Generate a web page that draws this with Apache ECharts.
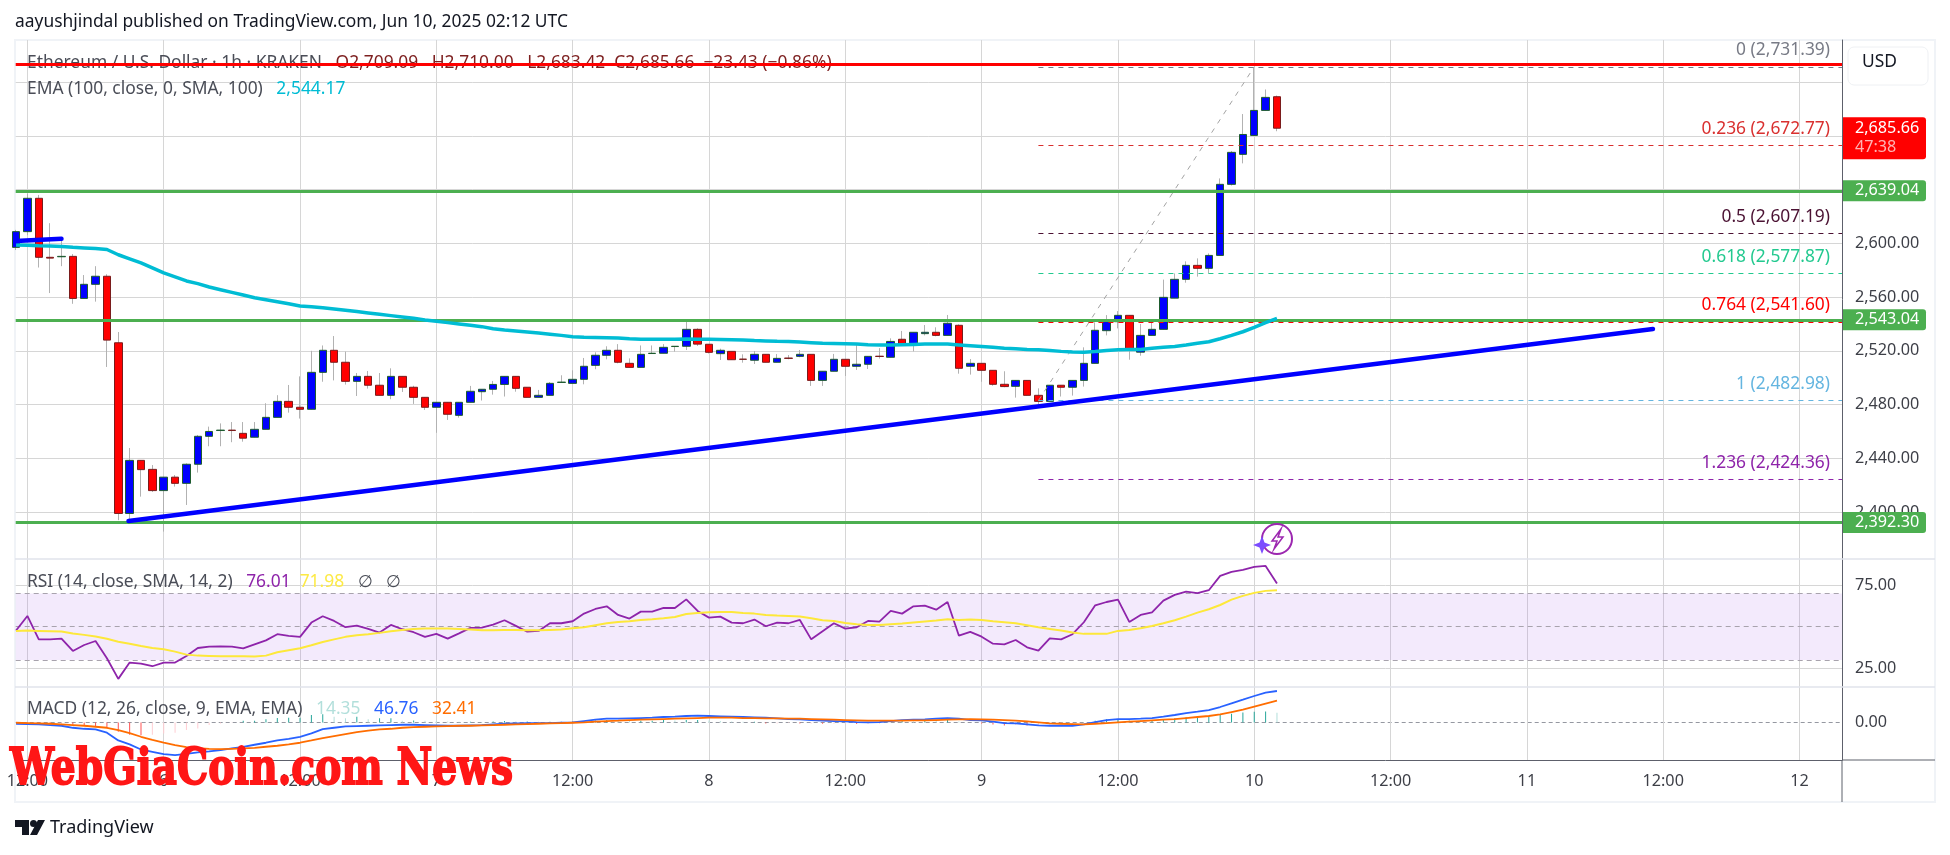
<!DOCTYPE html>
<html><head><meta charset="utf-8">
<style>html,body{margin:0;padding:0;background:#fff}#c{width:1950px;height:855px}</style>
<script src="https://cdn.jsdelivr.net/npm/echarts@6/dist/echarts.min.js"></script>
</head><body><div id="c"></div>
<script>
// hour offset from Jun 5 12:00 of the first candle
const firstHour = -1;
const opens = [2597,2608.7,2633.5,2589.6,2590,2590.3,2559,2569.5,2575.5,2526,
2399,2438.5,2431.8,2416,2426,2421.4,2435.6,2456.4,2460.7,2461,
2458.6,2455.7,2461.6,2470.5,2482.4,2478,2476.5,2504,2520.4,2511.5,
2497.3,2501,2494.4,2486.9,2501,2492.9,2485.4,2478,2481.7,2472,
2481.7,2489.6,2491.4,2495,2501,2492.9,2485.4,2486.9,2496.5,2495.8,
2498.8,2509.2,2516.7,2520.4,2510.7,2507.7,2518,2518.2,2523.2,2523.4,
2536,2524.9,2517.9,2519.6,2513.8,2513,2517.4,2511.5,2514.6,2515.9,
2517.4,2498,2504.8,2513.7,2508.5,2510,2516,2515.2,2528.6,2524.1,
2532.8,2533.8,2531.5,2539,2508.5,2510.7,2505.5,2495.1,2493.6,2498,
2486.9,2482.4,2494.4,2492.9,2498,2510.7,2535,2541.7,2546.4,2519,
2531.5,2536,2559.2,2573.2,2583.6,2581.4,2591,2643.9,2666.2,2680.3,
2698.9,2709.09];
const closes = [2608.7,2633.5,2589.6,2589,2590.3,2559,2569.5,2575.5,2528,2399,
2438.5,2431.6,2416,2426,2421.4,2435.6,2456.4,2460,2461,2460.7,
2455,2461.6,2470.5,2482.4,2478,2476.5,2504,2520.4,2511.5,2497.3,
2501,2494.4,2486.9,2501,2492.9,2485.4,2478,2481.7,2472.8,2481.7,
2489.9,2491.4,2495,2501,2492.1,2485.4,2486.9,2495.8,2496.7,2498.8,
2508.5,2516.7,2520.4,2511.5,2507.7,2517.4,2518.2,2522.6,2523.4,2536,
2525,2518.9,2520.4,2513.4,2513.7,2517.4,2511.5,2514.4,2514.4,2517.4,
2498,2504.8,2513.7,2508.5,2510,2515.9,2515.8,2527,2524.1,2533.8,
2533.8,2531.5,2540.5,2507,2510.7,2505.5,2495.1,2493.4,2498,2486.9,
2482.4,2494.4,2492.9,2498,2510.7,2535.3,2541.7,2546.4,2520.4,2531.5,
2536,2559.8,2573.2,2583.6,2581.4,2591,2643.9,2667.7,2681,2698.9,
2708.6,2685.66];
const lows = [2595,2606,2582,2563,2583,2555,2559,2556.6,2508,2394,
2393,2411.5,2415,2385.5,2419,2405.3,2429.4,2449,2449,2452,
2452.4,2455.7,2461.6,2470.5,2474,2469.6,2476.5,2497,2498,2494.9,
2486.4,2491.9,2486.9,2484,2489.4,2480.5,2476,2459,2468.6,2470.3,
2481.7,2483,2487.4,2486,2489.6,2485.4,2485.4,2486.9,2496.4,2495.8,
2495.1,2506.3,2513.7,2510.7,2507.7,2507.7,2518,2518.2,2519.4,2520.6,
2523.6,2518,2513.2,2513.4,2511.2,2510.2,2511.5,2511.5,2513.7,2515.2,
2493.9,2493.9,2504.8,2501.3,2505.8,2506.5,2514.2,2515.2,2524.1,2519.6,
2531.5,2530.8,2531.5,2503,2502.3,2497,2494,2492.9,2485.2,2486.9,
2480,2482.4,2486,2486.7,2493.4,2510.7,2531.5,2536.7,2513.4,2516.4,
2531.5,2536,2559.2,2570.7,2575.2,2577.6,2591,2643,2659.5,2680.3,
2698.9,2683.42];
const highs = [2610,2637,2636,2615,2604,2592,2576.4,2583,2577,2534,
2447.7,2438.5,2435,2426,2427.6,2436.3,2457.4,2463.6,2466,2467,
2467,2467,2481,2487,2494.6,2501,2520,2524,2531,2519.4,
2503.5,2505,2503.5,2507,2501,2494,2485.4,2481.7,2481.7,2481.7,
2493.9,2491.4,2497.6,2501,2501,2492.9,2490.9,2496.8,2501.8,2505.5,
2514.7,2518.9,2523.4,2525,2514.4,2524,2524,2525,2523.4,2541.5,
2536.8,2524.9,2521.6,2519.6,2517.4,2519.9,2517.4,2517.6,2516.9,2520.6,
2517.4,2504.8,2517.7,2513.7,2525.6,2515.9,2522,2529.3,2534.8,2533.8,
2539.2,2537.5,2546.7,2539.7,2513.9,2510.7,2505.5,2504.8,2498,2498,
2492.1,2494.4,2494.4,2498,2522.6,2541.2,2546.6,2549.6,2546.4,2540,
2542,2573,2577.6,2586.6,2588.8,2592.5,2648.3,2668.7,2696.2,2731,
2714.5,2710];
const emaValues = [2598.7,2598.5,2598.2,2598,2597.6,2597,2596.6,2596.2,2595.4,2591.5,
2588.5,2585.5,2581.8,2578,2575,2572,2570,2567.5,2565.5,2563.5,
2561.5,2559.5,2558,2556.5,2555,2553.3,2552.8,2552,2551.2,2550.2,
2549.2,2548.2,2547.2,2546.2,2545.2,2544.2,2543,2542,2541,2540,
2539,2538,2536.5,2535.5,2534.8,2534,2533.2,2532.4,2531.5,2530.5,
2530.2,2530,2529.8,2529.5,2529,2528.7,2528.6,2528.6,2528.7,2528.8,
2528.7,2528.6,2528.4,2528.2,2528,2527.6,2527.4,2527.1,2526.9,2526.5,
2526.1,2525.6,2525.4,2525.2,2525,2524.6,2524.4,2524.3,2524.6,2524.8,
2525,2525,2525,2524.4,2523.8,2523.2,2522.6,2522,2521.5,2521,
2520.8,2520.2,2519.6,2519.1,2519,2519.5,2520.2,2520.8,2521,2521,
2521.9,2522.6,2523.3,2524.4,2525.6,2526.8,2529,2531.5,2534.2,2537.5,
2541,2544.2];
const rsiValues = [47.7,56.5,42.4,42.4,42.8,35.4,39,41.4,31,18.6,
28.4,27.8,26.2,28.4,28.4,32.4,37.2,38,38.2,38,
37,39.4,41.8,45.5,44.5,43.9,52.5,56.3,53.5,49.7,
50.7,48.7,46.5,51.1,48.5,46.7,43.9,45.7,42.8,46,
49.3,49.5,51.3,53.9,50.5,47,47.5,52.1,52.1,53.3,
57.9,60.7,62.3,57.1,54.9,59.1,59.1,61.3,61.3,66.5,
59.5,55.5,56.1,52.5,52.1,54.3,50.3,52.5,52.1,54.1,
42.4,47.3,52.1,48.9,49.7,53.5,53.1,59.5,57.9,62.3,
62.7,60.3,64.9,44.6,46.9,44,39.8,39.4,42,37.6,
35.6,43,42.4,45.5,52.7,62.9,64.9,66.3,52.9,57.1,
58.7,65.7,69.2,71.2,70.2,72,80.6,83,84.2,86,
86.6,76.01];
const rsiMaValues = [47.5,47.7,47.5,47.3,47.1,45.9,45.1,44.1,42.8,41,
39.8,38.4,37.2,36.4,35,33.2,32.6,32.4,32.2,32.2,
32.2,32,32.6,34.6,35.8,37,38.8,40.8,42.4,43.9,
44.9,45.5,46.3,47.3,48.1,48.7,48.9,48.9,48.9,48.7,
48.3,47.9,47.9,48.1,48.1,47.9,47.9,48.1,48.3,49.1,
49.7,50.9,52.1,52.9,53.3,54.1,54.5,55.1,55.9,57.7,
58.3,58.7,58.9,58.9,58.3,57.9,57.1,56.7,56.5,56.1,
55.1,53.9,53.5,52.3,51.5,51.1,51.1,51.5,51.9,52.5,
53.1,53.7,54.5,54.1,54.3,54.1,53.3,52.7,52.1,50.9,
49.7,48.7,47.7,46.5,45.7,45.7,45.7,47.5,48.1,49.1,
50.5,52.1,53.9,56.1,58.5,60.5,63.1,66.3,68.6,70.4,
71.6,71.98];
const macdValues = [-2,-2.5,-3,-4,-5,-8,-9.5,-10.4,-15.4,-26.9,
-32.8,-40.3,-43.8,-47.3,-48.8,-46.8,-44.8,-43.3,-41.3,-38.8,
-36.3,-33.3,-30.3,-26.9,-24.4,-21.4,-16.4,-10,-8,-6,
-5.5,-5,-4.5,-4,-3.5,-3.5,-4,-4.5,-5,-5,
-4.5,-4,-3,-2,-1.5,-1,-1,-1,-0.5,0,
2,4,5.5,5.5,6,6.5,7,8,8.5,9.5,
10,9.5,9,8.5,8,7.5,7,6,5,4.5,
3.5,2.5,2,1.5,0.5,0,0.5,2,3.5,4,
4.5,5.5,6.5,5.5,3.5,3,1,-1,-1.5,-3,
-4.5,-5,-5,-5,-3,0.5,3.5,5,5,5.5,
6.5,8.5,11,13.9,15.9,18.4,22.9,28.4,33.8,39.3,
44.3,46.76];
const signalValues = [-0.5,-1,-1.5,-2,-3,-4,-5,-6.5,-8,-11.4,
-15.9,-21.4,-25.9,-30.3,-33.8,-36.8,-38.3,-39.3,-39.8,-39.3,
-38.8,-37.8,-36.3,-34.8,-32.8,-30.3,-26.9,-23.4,-20.4,-17.4,
-14.4,-12.4,-10.4,-9.5,-8,-7,-6.5,-6,-5.5,-5,
-5,-4.5,-4,-3.5,-3,-2.5,-2,-1.5,-1,-0.5,
0,1,2,2.5,3.5,4,4.5,5,5.5,6,
6.5,7,7,7,6.5,6.5,6,6,5.5,5.5,
5,4.5,4,3.5,3,2.5,2.5,2.5,2.5,3,
3,3.5,4,4.5,5,4.5,4,3.5,2.5,1.5,
0,-1.5,-2,-2.5,-3,-2,-1,0,1,2,
3,4,5,6.5,8,9.5,11.9,15.4,18.9,23.4,
27.9,32.41];
const histValues = [-0.5,-1,-1.5,-2,-2,-3.5,-4.5,-5.5,-7.5,-14,
-18.5,-19,-18.5,-16.5,-15.5,-11.5,-9,-4,-1.5,-0.5,
2.5,2.5,4.5,6.5,7,7,11,12,8.5,6,
8.5,4.5,6,6,2.5,3,2.5,2,1.5,1,
1,0.5,1.5,2,1.5,1.5,1,1,1,1.5,
2,3,3.5,3,2.5,2.5,2.5,3.5,3,3.5,
3.5,3,2,1.5,1,1,-1.5,-1.5,-1,-1.5,
-1.5,-2,-2,-2,-2.5,-2.5,-2,-0.5,2,1.5,
3.5,2,3.5,1.5,0,-1.5,-3,-4.5,-4,-4.5,
-4.5,-3.5,-3,-2.5,0,2.5,4.5,5,4,3.5,
3.5,4.5,6,7.5,8,8.9,11,13,14.9,15.9,
16.4,14.35];

const dayTickHours = [0,12,24,36,48,60,72,84,96,108,120,132,144,156];
const timeLabels = ['12:00','6','12:00','7','12:00','8','12:00','9','12:00','10','12:00','11','12:00','12'];
const priceTicks = [2400,2440,2480,2520,2560,2600,2640,2680,2720];
const priceLabels = [2400,2440,2480,2520,2560,2600];
const rsiTicks = [25,75];
const macdTicks = [0];

const greenLevels = [2639.04,2543.04,2392.30];
const redLevel = 2733;
const lastPrice = 2685.66;
const fibStartHour = 89, fibEndHour = 108;
const fibLevels = [[0,2731.39,'#787b86'],[0.236,2672.77,'#d9302f'],[0.5,2607.19,'#4b1233'],[0.618,2577.87,'#22c98f'],[0.764,2541.60,'#ff0000'],[1,2482.98,'#64b5e0'],[1.236,2424.36,'#8e24aa']];
const trendMain = [[8.9,2393.4],[143.1,2536.2]];
const trendShort = [[-1.03,2601.7],[3.0,2603.4]];
const fibDiagonal = [[fibStartHour,2482.98],[fibEndHour,2731.39]];

for (const a of [opens,closes,lows,highs,emaValues,rsiValues,rsiMaValues,macdValues,signalValues,histValues]) {
  if (a.length !== 112) throw new Error('len '+a.length+' first '+a[0]);
}

const FONT = '"Noto Sans"';
const TXT = '#3d3f47';
const GRIDC = '#d6d6d6';
const AX = 16.2, LG = 17.4;
const hours = opens.map((_,i)=>firstHour+i);
const xMin = -1.03, xMax = 159.74;
const money = v => v.toLocaleString('en-US',{minimumFractionDigits:2,maximumFractionDigits:2});
const ser = a => a.map((v,i)=>[hours[i],v]);
const GL = 15.7, GW = 1826.3;

const xAxisBase = g => ({
  type:'value', gridIndex:g, min:xMin, max:xMax, scale:true,
  axisLine:{show:false,onZero:false}, axisTick:{show:false, customValues:dayTickHours},
  axisLabel:{show:false}, splitLine:{show:true,lineStyle:{color:GRIDC,width:1}}
});
const yAxisBase = (g,min,max,ticks,labels,fmt) => ({
  type:'value', gridIndex:g, position:'right', min, max, scale:true,
  axisLine:{show:true,onZero:false,lineStyle:{color:'#5d606b',width:1}}, axisTick:{show:false,customValues:ticks},
  axisLabel:{show:true,customValues:labels,formatter:fmt,margin:13,color:TXT,fontFamily:FONT,fontSize:AX},
  splitLine:{show:true,lineStyle:{color:GRIDC,width:1}}
});

const greenTag = v => ({yAxis:v, lineStyle:{color:'#4caf50',width:3,type:'solid'},
  label:{show:true,position:'end',distance:1,formatter:money(v),color:'#fff',backgroundColor:'#4caf50',
    borderRadius:[0,3,3,0],padding:[3,6,2,12],fontFamily:FONT,fontSize:AX,width:65,align:'left'}});

const mainLines = [
  {yAxis:redLevel,lineStyle:{color:'#ff0000',width:3,type:'solid'},label:{show:false}},
  ...greenLevels.map(greenTag),
  {yAxis:lastPrice,lineStyle:{color:'rgba(0,0,0,0)',width:1},
   label:{show:true,position:'end',distance:1,offset:[0,10],formatter:'{a|'+money(lastPrice)+'}\n{b|47:38}',
     backgroundColor:'#ff0000',borderRadius:[0,3,3,0],padding:[2,6,2,12],width:65,align:'left',
     rich:{a:{color:'#fff',fontFamily:FONT,fontSize:AX,lineHeight:19},b:{color:'#ffb3b3',fontFamily:FONT,fontSize:AX,lineHeight:19}}}},
  ...fibLevels.map(f=>[
    {xAxis:fibStartHour,yAxis:f[1],lineStyle:{color:f[2],width:1,type:[5,5]},
     label:{show:true,position:'insideEndTop',distance:8,offset:[-4,0],color:f[2],fontFamily:FONT,fontSize:LG,
       formatter:f[0]+' ('+money(f[1])+')'}},
    {xAxis:xMax,yAxis:f[1]}
  ])
];

const option = {
  animation:false,
  textStyle:{fontFamily:FONT},
  grid:[
    {left:GL,width:GW,top:40,height:519},
    {left:GL,width:GW,top:559,height:128},
    {left:GL,width:GW,top:687,height:73}
  ],
  xAxis:[
    xAxisBase(0),
    xAxisBase(1),
    Object.assign(xAxisBase(2),{
      axisLine:{show:true,onZero:false,lineStyle:{color:'#5d606b',width:1}},
      axisLabel:{show:true,customValues:dayTickHours,margin:13,color:TXT,fontFamily:FONT,fontSize:AX,
        formatter:v=>timeLabels[dayTickHours.indexOf(v)]}
    })
  ],
  yAxis:[
    yAxisBase(0,2365.1,2751.3,priceTicks,priceLabels,money),
    yAxisBase(1,13.7,90.8,rsiTicks,rsiTicks,money),
    (()=>{const y=yAxisBase(2,-56,52.7,macdTicks,macdTicks,money); y.splitLine={show:true,lineStyle:{color:'#9598a1',width:1,type:[4,3]}}; return y;})()
  ],
  series:[
    {name:'wicks',type:'candlestick',xAxisIndex:0,yAxisIndex:0,barWidth:1,z:2,
     encode:{x:0,y:[1,2,3,4]},
     itemStyle:{color:'#b2b2b2',color0:'#b2b2b2',borderColor:'#b2b2b2',borderColor0:'#b2b2b2',borderWidth:1},
     data:hours.map((h,i)=>[h,opens[i],closes[i],lows[i],highs[i]])},
    {name:'bodies',type:'candlestick',xAxisIndex:0,yAxisIndex:0,barWidth:8,z:3,
     encode:{x:0,y:[1,2,3,4]},
     itemStyle:{color:'#0000ff',color0:'#ff0000',borderColor:'#1e5c2e',borderColor0:'#7a1c1c',borderWidth:1},
     data:hours.map((h,i)=>[h,opens[i],closes[i],Math.min(opens[i],closes[i]),Math.max(opens[i],closes[i])])},
    {name:'fib diagonal',type:'line',xAxisIndex:0,yAxisIndex:0,z:4,showSymbol:false,silent:true,
     lineStyle:{color:'#a3a3a3',width:1,type:[5,6]},data:fibDiagonal},
    {name:'EMA 100',type:'line',xAxisIndex:0,yAxisIndex:0,z:5,showSymbol:false,smooth:false,
     lineStyle:{color:'#00bcd4',width:3.5},data:ser(emaValues),
     markLine:{silent:true,symbol:'none',precision:2,data:mainLines}},
    {name:'trend',type:'line',xAxisIndex:0,yAxisIndex:0,z:6,showSymbol:false,
     lineStyle:{color:'#0000ff',width:4.5,cap:'round'},data:trendMain},
    {name:'trend short',type:'line',xAxisIndex:0,yAxisIndex:0,z:6,showSymbol:false,
     lineStyle:{color:'#0000ff',width:4.5,cap:'round'},data:trendShort},
    {name:'RSI',type:'line',xAxisIndex:1,yAxisIndex:1,z:5,showSymbol:false,
     lineStyle:{color:'#8e24aa',width:1.8},data:ser(rsiValues),
     markArea:{silent:true,itemStyle:{color:'rgba(160,80,230,0.12)'},data:[[{yAxis:70},{yAxis:30}]]},
     markLine:{silent:true,symbol:'none',label:{show:false},
       lineStyle:{color:'#a8a3ad',width:1,type:[5,4]},data:[{yAxis:70},{yAxis:50},{yAxis:30}]}},
    {name:'RSI MA',type:'line',xAxisIndex:1,yAxisIndex:1,z:5,showSymbol:false,
     lineStyle:{color:'#fde83a',width:2},data:ser(rsiMaValues)},
    {name:'Hist',type:'bar',xAxisIndex:2,yAxisIndex:2,z:3,barWidth:1,
     data:histValues.map((v,i)=>{
       const p=i?histValues[i-1]:v;
       const c=v>=0?(v>=p?'#26a69a':'#b2dfdb'):(v<p?'#ff5252':'#ffcdd2');
       return {value:[hours[i],v],itemStyle:{color:c}};
     })},
    {name:'MACD',type:'line',xAxisIndex:2,yAxisIndex:2,z:5,showSymbol:false,
     lineStyle:{color:'#2962ff',width:1.8},data:ser(macdValues)},
    {name:'Signal',type:'line',xAxisIndex:2,yAxisIndex:2,z:6,showSymbol:false,
     lineStyle:{color:'#ff6d00',width:1.8},data:ser(signalValues)}
  ],
  graphic:[
    {type:'rect',z:-10,silent:true,shape:{x:15,y:40,width:1920,height:762},style:{fill:'none',stroke:'#f0f3f7',lineWidth:2}},
    {type:'line',z:1,silent:true,shape:{x1:15,y1:559,x2:1935,y2:559},style:{stroke:'#e0e3eb',lineWidth:1.5}},
    {type:'line',z:1,silent:true,shape:{x1:15,y1:687,x2:1935,y2:687},style:{stroke:'#e0e3eb',lineWidth:1.5}},
    {type:'line',z:1,silent:true,shape:{x1:1842,y1:760,x2:1935,y2:760},style:{stroke:'#5d606b',lineWidth:1}},
    {type:'line',z:1,silent:true,shape:{x1:1842,y1:760,x2:1842,y2:802},style:{stroke:'#5d606b',lineWidth:1}},
    {type:'text',z:1,x:15,y:14,style:{text:'aayushjindal published on TradingView.com, Jun 10, 2025 02:12 UTC',fill:'#131722',font:LG+'px '+FONT}},
    {type:'text',z:1,x:27,y:55,style:{font:LG+'px '+FONT,fill:'#4a4d57',
      text:'Ethereum / U.S. Dollar · 1h · KRAKEN   {r|O2,709.09   H2,710.00   L2,683.42  C2,685.66  −23.43 (−0.86%)}',
      rich:{r:{fill:'#7d1f1f',font:LG+'px '+FONT}}}},
    {type:'text',z:1,x:27,y:81,style:{font:LG+'px '+FONT,fill:'#4a4d57',
      text:'EMA (100, close, 0, SMA, 100)   {c|2,544.17}',rich:{c:{fill:'#00bcd4',font:LG+'px '+FONT}}}},
    {type:'text',z:1,x:27,y:574,style:{font:LG+'px '+FONT,fill:'#4a4d57',
      text:'RSI (14, close, SMA, 14, 2)   {p|76.01}  {y|71.98}   ∅   ∅',
      rich:{p:{fill:'#8e24aa',font:LG+'px '+FONT},y:{fill:'#fdea45',font:LG+'px '+FONT}}}},
    {type:'text',z:1,x:27,y:701,style:{font:LG+'px '+FONT,fill:'#4a4d57',
      text:'MACD (12, 26, close, 9, EMA, EMA)   {h|14.35}   {m|46.76}   {s|32.41}',
      rich:{h:{fill:'#b2dfdb',font:LG+'px '+FONT},m:{fill:'#2962ff',font:LG+'px '+FONT},s:{fill:'#ff6d00',font:LG+'px '+FONT}}}},
    // USD button
    {type:'rect',z:20,silent:true,shape:{x:1848,y:47,width:80,height:38,r:6},style:{fill:'#fff',stroke:'#eef0f3',lineWidth:1}},
    {type:'text',z:21,x:1862,y:54,style:{text:'USD',fill:'#131722',font:LG+'px '+FONT}},
    // lightning badge
    {type:'circle',z:20,silent:true,shape:{cx:1277,cy:539,r:15},style:{fill:'#fff',stroke:'#9c27b0',lineWidth:2}},
    {type:'polygon',z:21,silent:true,shape:{points:[[1281,529],[1272,541],[1277,541],[1274,549],[1283,537],[1278,537]]},style:{fill:'#fff',stroke:'#9c27b0',lineWidth:1.5}},
    {type:'polygon',z:22,silent:true,shape:{points:[[1262,536],[1264.5,542.5],[1271,545],[1264.5,547.5],[1262,554],[1259.5,547.5],[1253,545],[1259.5,542.5]]},style:{fill:'#7c4dff'}},
    // watermark
    {type:'text',z:100,x:10,y:746,scaleX:0.98,scaleY:1.25,style:{text:'WebGiaCoin.com News',fill:'#ff1616',stroke:'#ff1616',lineWidth:1.5,font:'bold 40px "DejaVu Serif"'}},
    // TradingView logo
    {type:'polygon',z:20,silent:true,shape:{points:[[15,820],[29,820],[29,835],[22,835],[22,827],[15,827]]},style:{fill:'#131722'}},
    {type:'circle',z:20,silent:true,shape:{cx:33.5,cy:823.5,r:3.5},style:{fill:'#131722'}},
    {type:'polygon',z:20,silent:true,shape:{points:[[38,820],[45,820],[37,835],[30,835]]},style:{fill:'#131722'}},
    {type:'text',z:20,x:50,y:819,style:{text:'TradingView',fill:'#131722',font:'18px '+FONT}}
  ]
};
const chart = echarts.init(document.getElementById('c'),null,{renderer:'canvas',width:1950,height:855});
chart.setOption(option);
</script></body></html>
